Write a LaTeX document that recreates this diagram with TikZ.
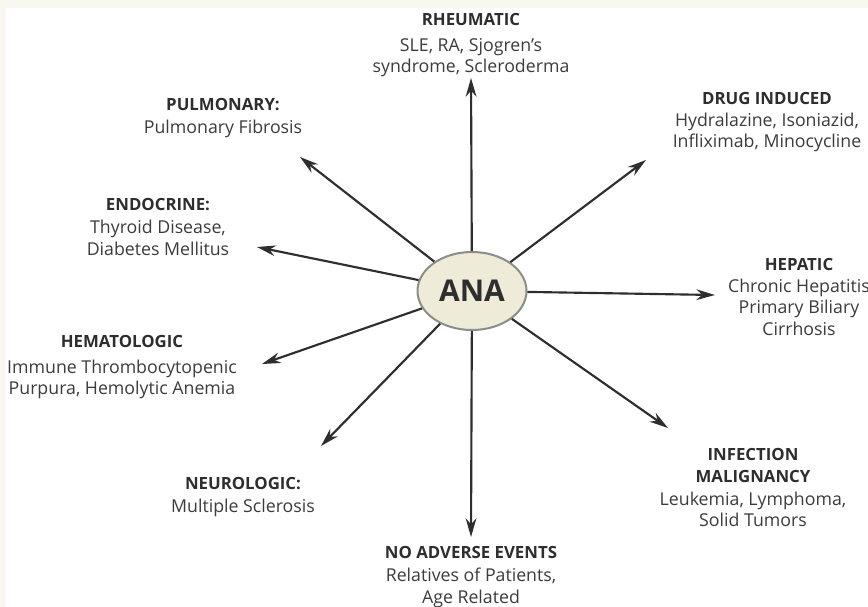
\documentclass[tikz,border=0pt]{standalone}
\usepackage{fontspec}
\setmainfont{Open Sans}
\usepackage{tikz}
\usetikzlibrary{arrows.meta,shapes.geometric}
\definecolor{panel}{HTML}{F8F7F0}
\definecolor{anafill}{HTML}{EEEBD8}
\definecolor{anaedge}{HTML}{8C8C8C}
\definecolor{ink}{HTML}{2E2E2E}
\definecolor{bodyink}{HTML}{3C3C3C}
\newcommand{\cattitle}[1]{{\color{ink}\bfseries\fontsize{12.6}{16.5}\selectfont #1}}
\tikzset{
  catlabel/.style={anchor=north,align=center,inner sep=0pt,text=bodyink,
    font=\fontsize{13.3}{16.3}\selectfont},
  spoke/.style={draw=ink,line width=1.6pt,
    -{Stealth[length=14pt,width=8pt,inset=4.5pt]}}
}

\begin{document}
\begin{tikzpicture}[x=0.75pt,y=-0.75pt]
		\useasboundingbox (0,0) rectangle (868,607);
		\clip (0,0) rectangle (868,607);
		\fill[panel] (0,0) rectangle (868,607);
		\fill[white] (6,8) rectangle (868,607);
		% arrow tips
		\path (471,78) coordinate (rheum_tip);
		\path (646,160) coordinate (drug_tip);
		\path (715,295) coordinate (hep_tip);
		\path (668,428) coordinate (inf_tip);
		\path (471,537) coordinate (noadv_tip);
		\path (321,446) coordinate (neuro_tip);
		\path (262,364) coordinate (hem_tip);
		\path (257,247) coordinate (endo_tip);
		\path (300,157) coordinate (pulm_tip);

		\path (472,291) node(ana) [ellipse,draw=anaedge,line width=1.5pt,fill=anafill,
			minimum width=81.75pt,minimum height=58.5pt,inner sep=0pt]
			{\fontsize{22.5}{22.5}\selectfont\bfseries\color{ink} ANA};

		\path (471,13) node(rheum) [catlabel] {\cattitle{RHEUMATIC}\\[3pt]
			SLE, RA, Sjogren's\\ syndrome, Scleroderma};
		\path (767,92) node(drug) [catlabel] {\cattitle{DRUG INDUCED}\\[0pt]
			Hydralazine, Isoniazid,\\ Infliximab, Minocycline};
		\path (799,258) node(hep) [catlabel] {\cattitle{HEPATIC}\\[0pt]
			Chronic Hepatitis\\ Primary Biliary\\ Cirrhosis};
		\path (753,448) node(inf) [catlabel] {\cattitle{INFECTION}\\ \cattitle{MALIGNANCY}\\[1pt]
			Leukemia, Lymphoma,\\ Solid Tumors};
		\path (471,546) node(noadv) [catlabel] {\cattitle{NO ADVERSE EVENTS}\\[1pt]
			Relatives of Patients,\\ Age Related};
		\path (243,477) node(neuro) [catlabel] {\cattitle{NEUROLOGIC:}\\[1pt]
			Multiple Sclerosis};
		\path (122,335) node(hem) [catlabel] {\cattitle{HEMATOLOGIC}\\[3pt]
			Immune Thrombocytopenic\\ Purpura, Hemolytic Anemia};
		\path (158,198) node(endo) [catlabel] {\cattitle{ENDOCRINE:}\\[1pt]
			Thyroid Disease,\\ Diabetes Mellitus};
		\path (223,98) node(pulm) [catlabel] {\cattitle{PULMONARY:}\\[1pt]
			Pulmonary Fibrosis};

		\draw[spoke] (ana) -- (rheum_tip);
		\draw[spoke] (ana) -- (drug_tip);
		\draw[spoke] (ana) -- (hep_tip);
		\draw[spoke] (ana) -- (inf_tip);
		\draw[spoke] (ana) -- (noadv_tip);
		\draw[spoke] (ana) -- (neuro_tip);
		\draw[spoke] (ana) -- (hem_tip);
		\draw[spoke] (ana) -- (endo_tip);
		\draw[spoke] (ana) -- (pulm_tip);
\end{tikzpicture}
\end{document}
